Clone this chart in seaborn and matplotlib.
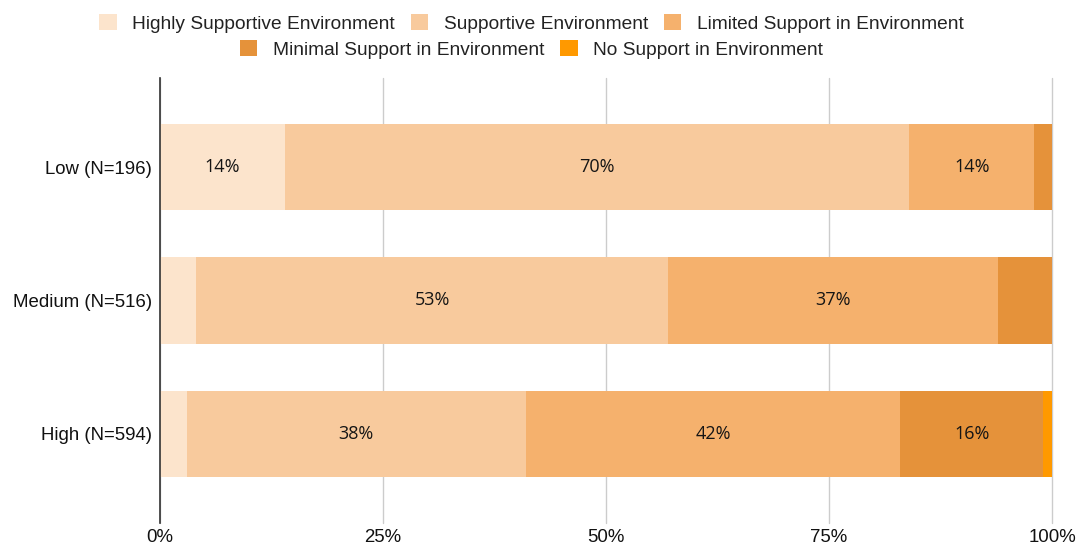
import matplotlib
matplotlib.use("Agg")
import matplotlib.pyplot as plt
from matplotlib.patches import Patch
import numpy as np
import pandas as pd
import seaborn as sns

groups = ["Low (N=196)", "Medium (N=516)", "High (N=594)"]
levels = [
    "Highly Supportive Environment",
    "Supportive Environment",
    "Limited Support in Environment",
    "Minimal Support in Environment",
    "No Support in Environment",
]
highly = [14, 4, 3]
supportive = [70, 53, 38]
limited = [14, 37, 42]
minimal = [2, 6, 16]
none_ = [0, 0, 1]
colors = ["#FCE4CC", "#F8CA9D", "#F5B16D", "#E5923A", "#FF9900"]
x_ticks = [0, 25, 50, 75, 100]
x_tick_labels = ["0%", "25%", "50%", "75%", "100%"]

sns.set_theme(style="white")
plt.rcParams["font.family"] = ["Liberation Sans", "DejaVu Sans"]

series = [highly, supportive, limited, minimal, none_]
values = np.array(series, dtype=float)
cum = np.cumsum(values, axis=0)

fig = plt.figure(figsize=(10.78, 5.47), dpi=100)
ax = fig.add_axes([0.1484, 0.0439, 0.8275, 0.8135])

# stacked bars: draw cumulative totals from the outermost segment inward
for k in range(len(levels) - 1, -1, -1):
    df = pd.DataFrame({"group": groups, "total": cum[k]})
    sns.barplot(data=df, x="total", y="group", order=groups, orient="h",
                color=colors[k], saturation=1, width=0.645, linewidth=0,
                ax=ax)

for k in range(len(levels)):
    for i in range(len(groups)):
        v = values[k, i]
        if v >= 10:
            left = cum[k, i] - v
            ax.text(left + v / 2, i, f"{int(v)}%", ha="center", va="center",
                    fontsize=13, color="#151515", family=["Open Sans", "DejaVu Sans"])

ax.set_xlim(0, 100)
ax.set_ylim(2.667, -0.667)
ax.set_xticks(x_ticks)
ax.set_xticklabels(x_tick_labels, fontsize=13.4, color="#111111")
ax.tick_params(axis="y", labelsize=13.4, colors="#111111", length=0, pad=6)
ax.tick_params(axis="x", length=0, pad=4)
ax.set_xlabel("")
ax.set_ylabel("")
ax.grid(axis="x", color="#CCCCCC", linewidth=1)
for gl in ax.get_xgridlines():
    gl.set_clip_on(False)
ax.set_axisbelow(True)
for s in ["top", "right", "bottom"]:
    ax.spines[s].set_visible(False)
ax.spines["left"].set_color("#333333")
ax.spines["left"].set_linewidth(1.2)
ax.spines["left"].set_zorder(5)

handles = [Patch(facecolor=c, edgecolor="none") for c in colors]
leg_kw = dict(frameon=False, fontsize=13.8, handlelength=0.9, handleheight=0.9,
              handletextpad=0.8, columnspacing=0.85, loc="center")
leg1 = fig.legend(handles[:3], levels[:3], ncol=3, bbox_to_anchor=(0.493, 0.957), **leg_kw)
for t in leg1.get_texts():
    t.set_color("#222222")
leg2 = fig.legend(handles[3:], levels[3:], ncol=2, bbox_to_anchor=(0.493, 0.910), **leg_kw)
for t in leg2.get_texts():
    t.set_color("#222222")

fig.savefig("out.png", dpi=100)
